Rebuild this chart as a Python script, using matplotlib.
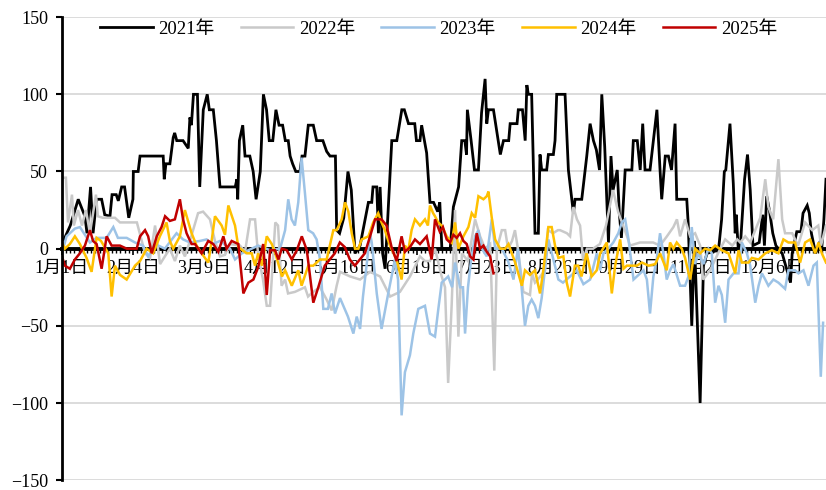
import matplotlib
matplotlib.use('Agg')
import matplotlib.pyplot as plt
from matplotlib.ticker import MultipleLocator

plt.rcParams['font.family'] = ['Liberation Serif', 'Noto Sans CJK SC']
plt.rcParams['axes.unicode_minus'] = True

# x axis: day of year (leap-year calendar, labels every 34 days)
tick_days = [0, 34, 68, 102, 136, 170, 204, 238, 272, 306, 340]
tick_labels = ['1月1日', '2月4日', '3月9日', '4月12日', '5月16日', '6月19日',
               '7月23日', '8月26日', '9月29日', '11月2日', '12月6日']

# 2021
days_2021 = [0, 1, 4, 7.8, 11, 12, 13.7, 14.9, 16.6, 19, 20.5, 23, 24, 26, 27, 28.6, 30, 32, 34, 34.2,
             36.5, 37.4, 48.5, 49, 49.8, 51.7, 53.3, 54, 55, 58, 60.5, 61.3, 62, 63, 64.9, 66, 67.7, 69.6,
             70.6, 72.5, 74, 75.7, 83, 83.8, 84.2, 85, 86.6, 87.7, 90, 91.6, 93, 95, 96.5, 98, 99.3, 101,
             102.5, 104, 105.7, 107, 108.4, 109.3, 110.5, 112, 114, 115, 116.4, 118, 120.4, 122, 125, 126.8,
             128.4, 131, 131.6, 133, 135, 137, 138.6, 140.4, 142.8, 145.2, 146.8, 148.4, 149, 150.8, 151.6,
             152.4, 153.6, 154.8, 158, 160.4, 162.8, 164, 166, 169, 169.8, 171.5, 172.3, 174.7, 176.3, 178,
             180, 181, 182, 186, 187.5, 190, 191.5, 193, 193.8, 194.2, 196, 197.6, 199.5, 201, 202.7, 203.5,
             204.3, 206.7, 210, 211.5, 214, 214.7, 218, 218.6, 220.6, 221.9, 222.7, 223.4, 225, 226.6, 228.2,
             229, 229.8, 232.2, 233, 235.4, 236.2, 237, 241, 242.6, 244.2, 245, 245.8, 249, 251.4, 253, 254.6,
             256, 257.5, 258.6, 260, 261.8, 263, 264, 266, 267, 268, 269.8, 273, 273.7, 275.6, 277, 278.2,
             279.3, 281.7, 283.3, 285, 286.5, 287.3, 289, 290.5, 292, 293.7, 294.5, 299.3, 300, 301.7, 303,
             305.7, 307.3, 309, 314.5, 316, 317.3, 318, 320, 321.6, 322.5, 323, 324, 325, 327, 328.4, 329.7,
             331, 334, 335.7, 336.5, 337.6, 339, 340.5, 342, 345, 349, 349.8, 352, 354, 355, 357, 358, 359,
             361, 363, 364, 365, 366]
vals_2021 = [6, 6, 15, 32, 21, 10, 40, 10, 32, 32, 22, 21, 35, 35, 31, 40, 40, 20, 32, 50,
             50, 60, 60, 45, 55, 55, 72, 75, 70, 70, 65, 85, 80, 100, 100, 40, 90, 100,
             90, 90, 70, 40, 40, 45, 32, 70, 80, 60, 60, 50, 32, 50, 100, 90, 70, 70,
             90, 80, 80, 70, 70, 60, 55, 50, 50, 60, 60, 80, 80, 70, 70, 63,
             60, 60, 12, 10, 20, 50, 38, -3, 2, 19, 30, 30, 40, 40, 10,
             40, -3, -13, 70, 70, 90, 90, 81, 81, 70, 70, 80, 62, 30, 30,
             24, 30, 0, 0, 27, 40, 70, 70, 61, 90, 70, 51, 51, 88, 110, 81,
             90, 90, 61, 70, 70, 81, 81, 90, 90, 70, 106, 100, 100, 10, 10,
             61, 51, 51, 61, 61, 70, 100, 100, 51, 32, 23, 32, 32, 60, 81, 70,
             64, 51, 100, 66, 4, 60, 38, 51, 23, 7, 51, 51, 70, 70, 51, 81,
             51, 51, 70, 90, 51, 32, 60, 60, 51, 81, 32, 32, 16, -50, 5,
             -100, -11, -3, -1, 19, 50, 51, 81, 42, 10, 22, -1, 2, 45, 61, 38,
             2, 4, 22, 2, 34, 24, 10, 2, -3, -22, -3, 11, 11, 23, 28, 23, 10,
             -3, 4, 1, 19, 45]

# 2022
days_2022 = [0, 1.9, 2.9, 4.8, 5.7, 7.7, 9.6, 11.5, 13.4, 16.3, 17.2, 19.6, 25.4, 27.8, 35.9, 39.8, 42.2,
             44.6, 47, 49.3, 51.7, 54.1, 56.5, 58.9, 61.3, 65.2, 67.6, 70.9, 73.3, 75.7, 78.1, 80.5, 85.3,
             87.7, 90.1, 92.5, 93.9, 96.3, 98.1, 99.7, 102.2, 103.5, 105.2, 106.9, 108.3, 111.6, 116.4,
             117.9, 120.3, 123.6, 126.8, 129.2, 131.6, 133.2, 138, 142.8, 147.6, 152.4, 157.2, 161.9, 166.7,
             171.5, 173.9, 176.3, 178.7, 181.9, 183.5, 185, 186.7, 188.3, 189.9, 191.6, 194.5, 197.9, 200.3,
             202.7, 205.1, 207.1, 208.4, 210.7, 212.3, 213.7, 215.6, 217, 218.4, 221, 224.2, 225.2, 226.6,
             228, 231.4, 232.8, 235.2, 237.6, 238.6, 241.9, 243.4, 245, 246.7, 248.2, 249.6, 251.5, 254.4,
             257.7, 260.6, 264, 266.4, 268.3, 270.7, 272.1, 276.9, 283.2, 286.5, 289.8, 292.9, 294.6, 296.1,
             298.5, 300.9, 303.3, 305.7, 307.1, 310.5, 314.3, 317.7, 321.1, 323.5, 324.9, 327.3, 329.7,
             332.1, 334.5, 336.9, 338.4, 340.7, 343.2, 345, 346.4, 349.8, 352.6, 356, 359.4, 362.3, 363.6,
             366]
vals_2022 = [46, 46, 17, 35, 15, 25, 15, 25, 10, 35, 21, 20, 20, 17, 17, -3, -6,
             15, -10, -5, 0, -8, 2, -5, 5, 23, 24, 19, 5, -5, -4, 3, 2,
             -2, 19, 19, -3, -20, -37, -37, 17, 15, -24, -20, -29, -28, -25,
             -31, -28, -25, -33, -40, -24, -15, -18, -20, -15, -18, -31, -28, -18,
             -5, -8, -8, 0, -18, -25, -87, -36, 25, -57, -3, -8, 19, 8,
             0, 3, -79, 0, 12, 12, 0, 5, 12, 0, -28, -30, -16, -22,
             -20, -14, 12, 10, 12, 12, 10, 8, 27, 19, 15, -7, 0, 0,
             3, 15, 38, 24, 17, 8, 2, 4, 4, 2, 8, 14, 19, 8,
             19, 8, 10, 2, -20, -14, -3, 6, 2, 6, 4, 8, 4,
             12, 20, 45, 27, 19, 58, 19, 10, 10, 2, 17, 12, 15, 2,
             15]

# 2023
days_2023 = [0, 2.2, 6.2, 8.6, 11, 13.4, 16.6, 21.4, 24.6, 26.8, 31, 35, 38.8, 41.3, 44.6, 49.3, 54.9, 58,
             61.3, 66.1, 69.3, 72.3, 75.7, 80.5, 82.9, 86.2, 94, 99.7, 104.5, 106.9, 108.4, 110, 111.6,
             113.2, 114.8, 116.4, 118, 120.3, 122, 123.6, 125.2, 127.4, 129.2, 130.8, 133.2, 134.8, 137,
             139.6, 141.2, 142.8, 144.2, 146, 147.6, 148.4, 150.8, 153.1, 156.3, 159.5, 161, 162.7, 164.3,
             166.7, 168.3, 170.7, 173.9, 176.3, 178.7, 180.3, 181.9, 185, 186.9, 188.3, 190.7, 192.1, 193.1,
             194.5, 196.2, 197.9, 199.5, 201.1, 203.5, 205.9, 207.5, 210.7, 213.7, 216.3, 218.4, 219.4,
             221.8, 223.4, 225, 226.6, 228.2, 229.8, 233, 235.4, 237.8, 240, 243.4, 246.6, 249.8, 253,
             256.2, 257.8, 259.4, 261.7, 264.1, 266.5, 268.2, 269.8, 271.4, 273.8, 277, 278.6, 280.2, 281.7,
             283.3, 284.9, 286.5, 288.1, 289.7, 291.3, 292.9, 296.1, 298.5, 300.1, 301.7, 303.3, 304.9,
             307.3, 309.7, 311.3, 312.9, 314.5, 316.1, 317.7, 319.3, 321.7, 324.1, 325.7, 328.1, 329.7,
             332.1, 333.7, 335.3, 336.9, 338.4, 340.8, 343.2, 346.4, 348, 351.2, 352.8, 355.2, 357.6, 360,
             361.6, 363.5, 364.6]
vals_2023 = [-3, 8, 13, 14, 9, 4, 7, 7, 14, 7, 7, 4, 2, -5, 3, 0, 10, 6,
             4, 5, 6, 3, 5, 0, -7, -3, 2, -1, 0, 12, 32, 19, 15,
             30, 59, 36, 12, 10, 6, -7, -39, -39, -29, -42, -32, -37, -44,
             -55, -44, -52, -31, -10, 10, 4, -29, -52, -29, -7, -20, -108, -80,
             -69, -55, -39, -37, -55, -57, -39, -22, -18, -25, -9, -25, -25, -55,
             -25, -5, 8, 12, 0, -5, 19, 0, 0, -8, -20, 0, -13,
             -50, -37, -33, -37, -45, -32, 6, -7, -20, -22, -18, -14, -23, -20,
             -3, -14, -3, 0, 4, 10, 17, 19, 6, -20, -16, -14, -20, -42,
             -18, -7, 10, -3, -20, -14, -10, -24, -24, -18, 14, -10, -3,
             -10, 0, -3, -35, -24, -30, -48, -20, -16, -16, 4, -3, -11,
             -35, -24, -16, -20, -24, -20, -22, -26, -14, -14, -16, -14, -24, -11,
             -9, -83, -48]

# 2024
days_2024 = [0, 1.4, 3.8, 6.2, 8.6, 11.8, 14.2, 16.6, 18.7, 22.2, 23.8, 25.4, 27.8, 31, 35, 37.4, 40.6,
             43.7, 46.9, 50.1, 51.7, 53.3, 56.5, 58.9, 62.1, 64.5, 66.9, 70.1, 71.7, 73.3, 74.9, 76.5, 78.1,
             79.7, 82.9, 84.5, 88.5, 90.9, 92.5, 94, 95.8, 98.1, 100.5, 102.2, 105.4, 106.9, 110.1, 113.2,
             114.8, 118, 120.4, 123.6, 126.8, 130, 131.6, 134, 135.6, 137.2, 138.8, 140.4, 142, 143.6,
             146.8, 149.1, 151.5, 153.1, 154.7, 157.1, 160.3, 162.7, 164.3, 165.9, 167.5, 169.1, 171.5,
             173.9, 175.3, 176.3, 177.8, 178.7, 180.2, 181.9, 184.3, 186.7, 188.3, 189.9, 192.3, 194.7,
             196.3, 197.9, 199.5, 201.9, 203.5, 204.3, 205.9, 207.5, 209.9, 212.3, 213.9, 217.1, 220.3,
             221.8, 224.2, 226.6, 229, 230.6, 233, 234.6, 236.2, 237.8, 240.2, 241.8, 243.4, 245.7, 247.3,
             248.9, 251.3, 253.7, 256.2, 257.8, 261, 263.4, 265, 267.4, 269, 270.6, 275.4, 277.8, 281,
             284.2, 286.5, 289.7, 291.3, 292.9, 294.5, 296.9, 298.5, 300.9, 303.3, 305.7, 308.1, 310.5,
             312.9, 316.1, 319.3, 322.5, 324.1, 325.7, 328.9, 330.5, 333.7, 336.9, 340.1, 343.2, 345.6,
             348, 351.2, 353.6, 356, 358.4, 360.8, 362.4, 364, 366]
vals_2024 = [4, 0, 3, 8, 3, -6, -15, 7, 5, -3, -31, -11, -17, -20, -11, -8, 0,
             -3, 8, 17, 5, 0, 8, 25, 10, 2, -3, -9, 5, 21, 18, 15, 9,
             28, 15, 1, -3, -3, -11, -3, -11, 8, 3, -3, -18, -14, -24, -14,
             -24, -11, -11, -7, -7, 12, 12, 19, 30, 24, 10, 0, 0, 6,
             8, 17, 23, 17, 12, 2, -7, -20, 2, -1, 12, 19, 15,
             19, 15, 28, 23, 21, 17, 15, 8, 4, 17, 0, 8, 14,
             23, 20, 34, 32, 34, 37, 20, 6, 0, 0, 3, -9, -24,
             -14, -17, -14, -29, -14, 14, 14, 2, -6, -5, -22, -31, -11, -11,
             -18, -3, -18, -14, -3, 4, -29, -11, 6, -13, -11, -11, -9, -11,
             -10, -3, -14, 4, 0, 4, 0, -6, -20, 0, -3, 0, -1,
             2, -1, -3, -16, -1, -9, -9, -6, -7, -3, -1, -3, 6,
             4, 4, -9, 4, 6, -3, 4, -3, -9]

# 2025
days_2025 = [0, 1.4, 3.8, 6.2, 8.6, 11, 13.4, 14.9, 16.6, 19, 21.4, 23.8, 27.8, 31, 35.8, 37.4, 39.8, 41.3,
             43, 45.4, 47.7, 49.4, 51.7, 54.1, 56.5, 58, 59.7, 62.1, 63.7, 66.9, 70.1, 72.5, 74.9, 77.3,
             78.9, 81.3, 84.5, 86.9, 89.3, 91.7, 94, 96.4, 98.1, 99.7, 102.1, 103.7, 105.3, 107.7, 110.1,
             112.5, 114.9, 117.3, 120.4, 122.8, 125.9, 128.3, 130.7, 133.1, 135.5, 137.9, 140.3, 142.7,
             145.1, 147.6, 150, 153.1, 155.5, 157.9, 160.3, 162.7, 164.3, 166.7, 169.1, 171.5, 174.7,
             177.1, 178.7, 181, 182.5, 184.3, 185.9, 187.5, 189.1, 190.7, 192.3, 193.9, 195.5, 197.1,
             198.7, 200.3, 201.9, 203.5, 205.1, 206.7]
vals_2025 = [-5, -11, -13, -7, -3, 2, 12, 5, 3, -13, 8, 2, 2, 0, 0, 8, 12, 8,
             -3, 8, 14, 21, 18, 19, 32, 19, 10, 3, 3, -3, 5, 3, -2, 8,
             0, 5, 3, -29, -22, -20, -12, 3, -30, -1, -1, -7, 0, -1, -7,
             -1, 8, -1, -35, -25, -11, -7, -3, 4, 1, -7, -11, -7,
             -3, 8, 19, 19, 15, 1, -8, 8, -2, 1, 6, 3, 8,
             -7, 19, 11, 14, 6, 4, 9, 7, 10, 5, 3, -5, -7,
             10, 0, 2, -2, -5, -16]

series = [
    ('2021年', days_2021, vals_2021, '#000000', 2.0),
    ('2022年', days_2022, vals_2022, '#C9C9C9', 1.8),
    ('2023年', days_2023, vals_2023, '#9DC3E6', 1.8),
    ('2024年', days_2024, vals_2024, '#FFC000', 1.8),
    ('2025年', days_2025, vals_2025, '#C00000', 1.8),
]

fig = plt.figure(figsize=(8.26, 4.9), dpi=100)
ax = fig.add_axes([0.075, 0.02, 0.925, 0.945])

for name, d, v, c, lw in series:
    ax.plot(d, v, color=c, lw=lw, label=name, solid_joinstyle='miter')

ax.set_xlim(0, 366)
ax.set_ylim(-150, 150)
ax.yaxis.set_major_locator(MultipleLocator(50))
ax.grid(axis='y', color='#D9D9D9', lw=1.3)
ax.set_axisbelow(True)

for s in ['top', 'right']:
    ax.spines[s].set_visible(False)
ax.spines['left'].set_linewidth(2.0)
ax.spines['bottom'].set_position(('data', 0))
ax.spines['bottom'].set_linewidth(2.8)
ax.spines['bottom'].set_zorder(1.5)

ax.set_xticks(tick_days)
ax.set_xticklabels(tick_labels)
ax.xaxis.set_minor_locator(MultipleLocator(2))
ax.tick_params(axis='x', which='major', length=4, width=1.2, pad=4, labelsize=13)
ax.tick_params(axis='x', which='minor', length=3, width=1.0)
ax.tick_params(axis='y', length=4, width=1.5, labelsize=13, pad=6)

ax.legend(loc='center', bbox_to_anchor=(0.493, 0.974), ncol=5, frameon=False,
          fontsize=13.5, handlelength=2.8, handletextpad=0.3, columnspacing=1.4)

plt.savefig('out.png', dpi=100)
